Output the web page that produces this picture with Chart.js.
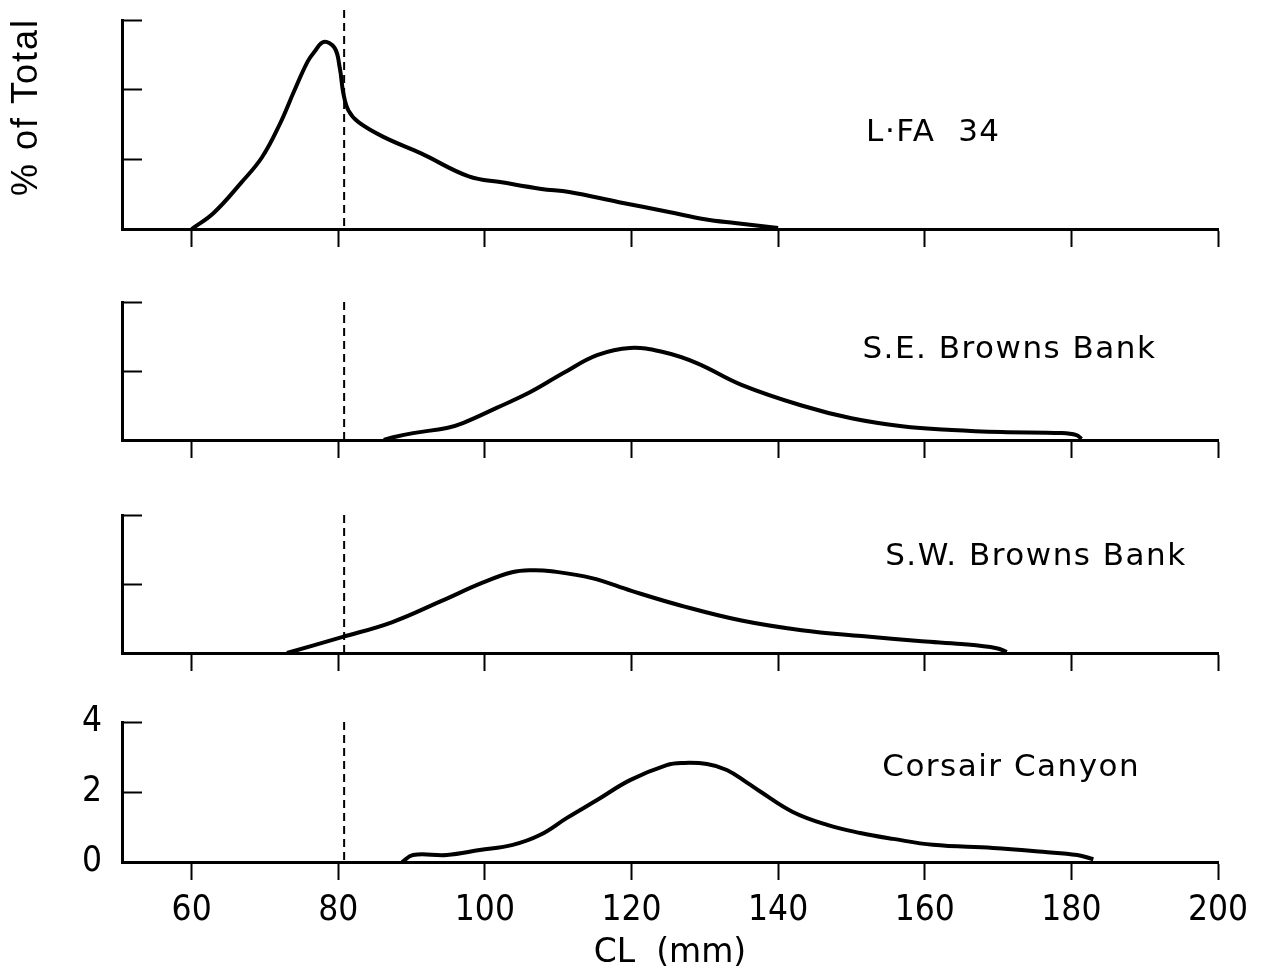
<!DOCTYPE html>
<html>
<head>
<meta charset="utf-8">
<title>% of Total by CL</title>
<script src="https://cdn.jsdelivr.net/npm/chart.js@4.4.0/dist/chart.umd.min.js"></script>
<style>
  html, body { margin: 0; padding: 0; background: #fff; }
  #wrap { position: relative; width: 1264px; height: 974px; }
  #wrap canvas { position: absolute; left: 0; }
</style>
</head>
<body>
<div id="wrap">
  <canvas id="p1" width="1264" height="260" style="top:0px"></canvas>
  <canvas id="p2" width="1264" height="189" style="top:282px"></canvas>
  <canvas id="p3" width="1264" height="189" style="top:495px"></canvas>
  <canvas id="p4" width="1264" height="272" style="top:702px"></canvas>
</div>
<script>
// tick labels
const xTickValues = [60, 80, 100, 120, 140, 160, 180, 200];
const yTicksTop = [0, 2, 4, 6];
const yTicksLower = [0, 2, 4];

// LFA 34
const lfaCL  = [60, 63, 66.8, 69.6, 72, 74, 75.8, 76.8, 78, 79.5, 80.2, 80.7, 81.4, 82.8, 86.3, 91.3, 97.8, 102.3, 107.7, 111.5, 118.3, 125.1, 130, 134.1, 140];
const lfaPct = [0, 0.46, 1.34, 2.06, 3.0, 3.97, 4.8, 5.1, 5.37, 5.2, 4.63, 3.89, 3.4, 3.06, 2.63, 2.17, 1.51, 1.34, 1.15, 1.06, 0.77, 0.49, 0.28, 0.17, 0.03];

// S.E. Browns Bank
const seCL  = [86.2, 87.5, 90.2, 94.8, 97, 101.6, 106.2, 110.7, 115.3, 119.8, 124.3, 128.9, 135, 143.2, 150, 156.9, 163.7, 170.5, 178.7, 180.7, 181.4];
const sePct = [0, 0.08, 0.2, 0.35, 0.49, 0.93, 1.39, 1.94, 2.46, 2.67, 2.55, 2.23, 1.6, 1.0, 0.63, 0.4, 0.29, 0.23, 0.2, 0.14, 0.03];

// S.W. Browns Bank
const swCL  = [73, 80.5, 87.3, 94.1, 99.6, 103.7, 106.4, 109.1, 114.6, 120, 126.8, 135, 143.2, 151.4, 159.6, 165, 169.8, 171.2];
const swPct = [0, 0.46, 0.89, 1.51, 2.03, 2.34, 2.4, 2.37, 2.17, 1.8, 1.37, 0.94, 0.66, 0.49, 0.34, 0.26, 0.14, 0.03];

// Corsair Canyon
const ccCL  = [88.7, 90.2, 94.8, 99.3, 103.8, 107.5, 111.2, 115.3, 119.8, 124.8, 127, 130.3, 133, 135.8, 137.5, 142, 146.7, 151.2, 155.7, 161.1, 169.3, 176.1, 180.8, 183];
const ccPct = [0, 0.2, 0.2, 0.34, 0.49, 0.77, 1.26, 1.77, 2.34, 2.77, 2.83, 2.8, 2.63, 2.26, 2.02, 1.43, 1.06, 0.83, 0.66, 0.49, 0.4, 0.29, 0.2, 0.08];

// dashed reference line (mm)
const sizeLimit = 80.8;

const numFont = '"DejaVu Sans Condensed", "Liberation Sans Narrow", "DejaVu Sans", sans-serif';
const nameFont = '"DejaVu Sans", sans-serif';

// draws the dashed line, the area name and (top panel only) the y title
const panelText = {
  id: 'panelText',
  afterDraw(chart, args, opts) {
    const { ctx, chartArea, scales: { x, y } } = chart;
    ctx.save();
    const px = x.getPixelForValue(sizeLimit);
    ctx.setLineDash([8, 5]);
    ctx.lineWidth = 2;
    ctx.strokeStyle = '#000';
    ctx.beginPath();
    ctx.moveTo(px, chartArea.top - opts.dashOver);
    ctx.lineTo(px, chartArea.bottom);
    ctx.stroke();
    ctx.setLineDash([]);

    ctx.fillStyle = '#000';
    ctx.font = '31px ' + nameFont;
    ctx.letterSpacing = '1.5px';
    ctx.textAlign = 'left';
    ctx.textBaseline = 'middle';
    ctx.fillText(opts.name, x.getPixelForValue(opts.at[0]), y.getPixelForValue(opts.at[1]));

    if (opts.yTitle) {
      ctx.translate(chartArea.left - 95, y.getPixelForValue(3.5));
      ctx.rotate(-Math.PI / 2);
      ctx.textAlign = 'center';
      ctx.font = '36px "Liberation Sans", Arial, sans-serif';
      ctx.letterSpacing = '2px';
      ctx.fillText(opts.yTitle, 0, 0);
    }
    ctx.restore();
  }
};

const panels = [
  { id: 'p1', name: 'L·FA  34', cl: lfaCL, pct: lfaPct, yMax: 6, yTicks: yTicksTop, at: [152, 2.75], xAxisH: 31, dashOver: 10, yTitle: '% of Total', last: false },
  { id: 'p2', name: 'S.E. Browns Bank', cl: seCL, pct: sePct, yMax: 4, yTicks: yTicksLower, at: [151.5, 2.6], xAxisH: 31, dashOver: 0, last: false },
  { id: 'p3', name: 'S.W. Browns Bank', cl: swCL, pct: swPct, yMax: 4, yTicks: yTicksLower, at: [154.6, 2.78], xAxisH: 31, dashOver: 0, last: false },
  { id: 'p4', name: 'Corsair Canyon', cl: ccCL, pct: ccPct, yMax: 4, yTicks: yTicksLower, at: [154.2, 2.69], xAxisH: 112, dashOver: 0, last: true }
];

function makePanel(p) {
  const ctx = document.getElementById(p.id).getContext('2d');
  return new Chart(ctx, {
    type: 'line',
    data: {
      datasets: [{
        label: p.name,
        data: p.cl.map((v, i) => ({ x: v, y: p.pct[i] })),
        borderColor: '#000',
        borderWidth: 4,
        pointRadius: 0,
        tension: 0.4,
        fill: false
      }]
    },
    options: {
      responsive: false,
      animation: false,
      layout: { padding: { top: 20, right: 46, left: 0, bottom: 0 } },
      plugins: {
        legend: { display: false },
        tooltip: { enabled: false },
        panelText: { name: p.name, at: p.at, dashOver: p.dashOver, yTitle: p.yTitle }
      },
      scales: {
        x: {
          type: 'linear',
          min: 50.5,
          max: 200,
          afterBuildTicks: (s) => { s.ticks = xTickValues.map(v => ({ value: v })); },
          afterFit: (s) => { s.height = p.xAxisH; s.paddingLeft = 0; s.paddingRight = 0; },
          grid: { drawOnChartArea: false, drawTicks: true, tickLength: 18, tickWidth: 2, tickColor: '#000' },
          border: { display: true, color: '#000', width: 3 },
          ticks: { display: p.last, color: '#000', font: { family: numFont, size: 35 }, padding: 10, maxRotation: 0 },
          title: {
            display: p.last,
            text: 'CL  (mm)',
            color: '#000',
            font: { family: nameFont, size: 33 },
            padding: { top: 0, bottom: 1 }
          }
        },
        y: {
          min: 0,
          max: p.yMax,
          afterBuildTicks: (s) => { s.ticks = p.yTicks.map(v => ({ value: v })); },
          afterFit: (s) => { s.width = 122; s.paddingTop = 0; s.paddingBottom = 0; },
          grid: { drawOnChartArea: false, drawTicks: true, tickLength: -20, tickWidth: 2, tickColor: '#000' },
          border: { display: true, color: '#000', width: 3 },
          ticks: { display: p.last, color: '#000', font: { family: numFont, size: 35 }, padding: 40 }
        }
      }
    },
    plugins: [panelText]
  });
}

panels.forEach(makePanel);
</script>
</body>
</html>
